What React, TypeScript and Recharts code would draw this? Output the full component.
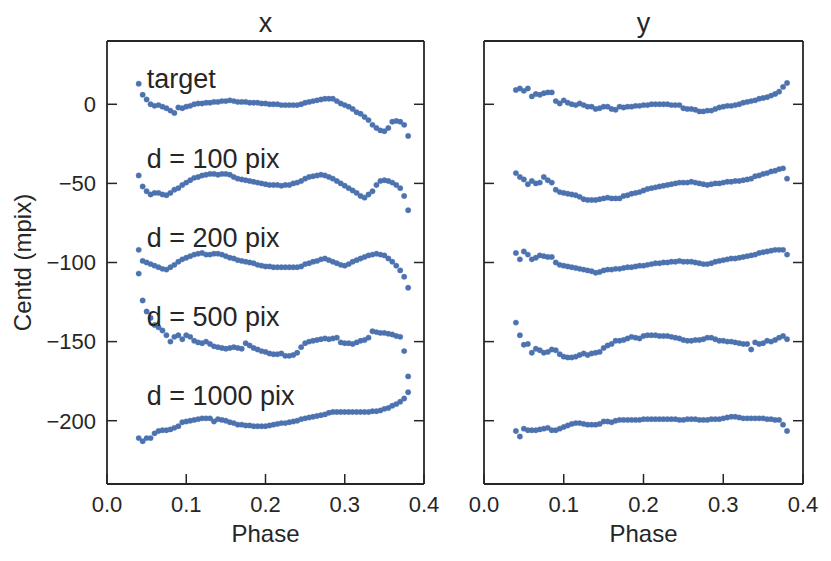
import { ScatterChart, Scatter, XAxis, YAxis, Label } from 'recharts';

// phase grid shared by every series
const phase = [
  0.04, 0.045, 0.05, 0.055, 0.06, 0.065, 0.07, 0.075, 0.08, 0.085,
  0.09, 0.095, 0.1, 0.105, 0.11, 0.115, 0.12, 0.125, 0.13, 0.135,
  0.14, 0.145, 0.15, 0.155, 0.16, 0.165, 0.17, 0.175, 0.18, 0.185,
  0.19, 0.195, 0.2, 0.205, 0.21, 0.215, 0.22, 0.225, 0.23, 0.235,
  0.24, 0.245, 0.25, 0.255, 0.26, 0.265, 0.27, 0.275, 0.28, 0.285,
  0.29, 0.295, 0.3, 0.305, 0.31, 0.315, 0.32, 0.325, 0.33, 0.335,
  0.34, 0.345, 0.35, 0.355, 0.36, 0.365, 0.37, 0.375, 0.38,
];

// x centroid (mpix)
const xTarget = [
  13, 6, 3, 0, -1, -0.5, -1.5, -2.5, -4, -5.5,
  -2, -2.5, -1.5, -1, 0, 0.5, 0.5, 1, 1, 1.5,
  1.5, 2, 2, 2.5, 2, 1.5, 1.5, 1.5, 1, 1,
  1, 0.5, 0.5, 0, 0, 0, -0.5, -0.5, -0.5, -0.5,
  -0.5, 0, 1, 1.5, 2, 2.5, 3, 3.5, 3.5, 3.5,
  2, 0.5, -0.5, -1.5, -3, -5, -6, -8, -10, -13,
  -15, -16.5, -17, -15, -11, -10.5, -11, -13, -20,
];
const x100 = [
  -45, -52, -55, -57, -56, -56, -57, -57.5, -56, -54,
  -53, -51, -49.5, -48, -46.5, -46, -45, -44.5, -44, -44,
  -44.5, -44, -44, -44.5, -46, -47, -47.5, -48, -48.5, -49,
  -49.5, -50, -50.5, -51, -51, -51, -51.5, -51, -51, -50,
  -49.5, -48.5, -47, -46, -45.5, -45, -44.5, -45, -46, -47,
  -48.5, -50, -51.5, -53, -54.5, -56, -58, -59, -57, -55,
  -51, -48.5, -48, -48.5, -49.5, -51, -53, -58, -67,
];
const x200 = [
  -92, -99, -100, -101, -102, -103, -104, -104.5, -103, -101.5,
  -99.5, -98, -97, -96, -95, -94.5, -94, -95, -95, -94.5,
  -94.5, -95, -96, -97, -97.5, -98.5, -99, -99.5, -100, -100.5,
  -101.5, -102, -102.5, -102.5, -103, -103, -103, -103, -103, -103,
  -103, -102.5, -101, -100.5, -99.5, -99, -98, -97.5, -98.5, -99.5,
  -100.5, -101.5, -102, -101, -99.5, -98.5, -97.5, -96.5, -95.5, -95,
  -94.5, -95, -95.5, -97.5, -99.5, -102, -105, -109, -116,
];
const x500 = [
  -107, -124, -131, -135, -139.5, -141, -143, -146, -150, -147,
  -146, -148.5, -146, -147, -149.5, -150.5, -151, -150, -151.5, -153,
  -153.5, -154, -154.5, -154, -153.5, -154, -154.5, -151, -152.5, -154,
  -155, -156, -156.5, -157.5, -158, -158, -157.5, -159, -159, -158.5,
  -157, -153.5, -151, -150, -149.5, -149, -148.5, -148, -148.5, -148,
  -147.5, -150.5, -151, -151, -151.5, -150.5, -149.5, -149, -147.5, -143.5,
  -144, -144.5, -144.5, -145, -145.5, -146.5, -147, -156, -172,
];
const x1000 = [
  -211, -213, -211, -211, -208, -206.5, -206, -206, -205.5, -204.5,
  -203.5, -201, -200.5, -200, -199.5, -199, -198.5, -198.5, -198.5, -200.5,
  -199, -199.5, -200, -201, -201.5, -202.5, -202.5, -203, -203, -203.5,
  -203.5, -203.5, -203.5, -203, -202.5, -202, -201.5, -201.5, -201, -200.5,
  -200, -199, -198.5, -198, -197.5, -197, -196.5, -196, -195, -194.5,
  -194.5, -194.5, -194.5, -194.5, -194.5, -194.5, -194.5, -194.5, -194.5, -194,
  -194, -193.5, -192.5, -192, -190.5, -189.5, -188, -186, -182,
];

// y centroid (mpix)
const yTarget = [
  9, 10, 8.5, 10, 5, 6.5, 6, 7, 7.5, 7.5,
  2, 0.5, 2.5, 1, 0, -0.5, 0.5, -0.5, -1.5, -1.5,
  -3, -2.5, -1.5, -1.5, -3, -3.5, -1.5, -2, -1.5, -1.5,
  -1, -1, -0.5, -0.5, 0, 0, 0, 0, 0, -0.5,
  -0.5, -0.5, -2.5, -3, -3, -3.5, -4.5, -4.5, -4, -4,
  -3, -2, -1.5, -1, -1, -0.5, 0, 1, 1.5, 2,
  2.5, 3.5, 4, 4.5, 5.5, 6.5, 8, 11, 13.5,
];
const y100 = [
  -43.5, -46, -47.5, -50.5, -48.5, -50, -49.5, -46, -48, -49.5,
  -54, -55.5, -56, -56.5, -57, -57.5, -58.5, -60, -60.5, -60.5,
  -60.5, -60, -59.5, -59, -59.5, -59.5, -59.5, -58, -57.5, -56.5,
  -56, -55.5, -54.5, -53.5, -53, -52.5, -52, -51.5, -51, -50.5,
  -50, -49.5, -49.5, -49.5, -49, -49.5, -50, -50.5, -51, -50.5,
  -50, -50, -49.5, -49, -49, -48.5, -48.5, -48, -47.5, -47,
  -45.5, -45, -44, -43.5, -42.5, -42, -41, -40.5, -47,
];
const y200 = [
  -94, -98, -93, -95, -98, -97, -95.5, -96, -96.5, -96.5,
  -100, -101.5, -102, -102.5, -103, -103.5, -104, -104.5, -105, -105.5,
  -106.5, -106, -105, -104.5, -104.5, -104, -104, -103.5, -103, -103,
  -102.5, -102, -102, -101.5, -101, -100.5, -100.5, -100, -100, -99.5,
  -99.5, -99, -99.5, -99.5, -99.5, -100, -100.5, -101, -101, -100.5,
  -99.5, -99, -98.5, -98, -97.5, -97.5, -97, -96.5, -96, -95.5,
  -95, -94, -93.5, -93, -92.5, -92, -92, -92, -95,
];
const y500 = [
  -138, -146, -152, -151.5, -157, -154.5, -155.5, -157, -156.5, -155,
  -155.5, -158, -159.5, -160, -160, -159.5, -158.5, -157.5, -158.5, -157.5,
  -157, -156.5, -154, -152.5, -151.5, -149.5, -149.5, -149, -148, -147,
  -147.5, -148, -146.5, -146, -146, -146, -146.5, -146.5, -146.5, -147,
  -147.5, -148, -149, -149.5, -149.5, -149, -149, -148.5, -147.5, -147.5,
  -148.5, -149.5, -149.5, -150, -150, -150.5, -151, -151.5, -151.5, -155,
  -150.5, -151.5, -151, -149.5, -150, -149, -147.5, -146.5, -148.5,
];
const y1000 = [
  -206.5, -210, -205, -206, -206, -206, -205.5, -205, -204.5, -206,
  -206, -205, -204, -203, -202, -201.5, -201.5, -202, -202.5, -202.5,
  -202.5, -202, -200.5, -200.5, -201, -200, -199.5, -199.5, -199.5, -199.5,
  -199.5, -199.5, -199, -199, -199, -199, -199, -199, -199, -199,
  -199, -199.5, -199.5, -199, -199, -199, -199.5, -199.5, -199.5, -199,
  -199, -199, -198.5, -198, -197.5, -197.5, -198, -198.5, -198.5, -198.5,
  -198.5, -198.5, -198.5, -199, -199, -199.5, -199.5, -202.5, -206.5,
];

// text labels placed in data coordinates on the left panel
const labelNames = ['target', 'd = 100 pix', 'd = 200 pix', 'd = 500 pix', 'd = 1000 pix'];
const labelPhase = [0.05, 0.05, 0.05, 0.05, 0.05];
const labelValues = [10, -40, -90, -140, -190];

const xTicks = [0, 0.1, 0.2, 0.3, 0.4];
const yTicks = [-200, -150, -100, -50, 0];

const INK = '#262626';
const DOT = '#4c72b0';
const FONT = '"Liberation Sans", Arial, sans-serif';

const toPoints = (vals: number[]) => phase.map((p, i) => ({ phase: p, value: vals[i] }));
const annotations = labelNames.map((name, i) => ({ phase: labelPhase[i], value: labelValues[i], name }));

const fmtY = (v: number) => (v < 0 ? `\u2212${Math.abs(v)}` : `${v}`);
const blank = () => '';

const Dot = (p: any) => (
  <circle cx={p.cx} cy={p.cy} r={2.7} fill={DOT} stroke="rgba(76,114,176,0.35)" strokeWidth={1} />
);

const Note = (p: any) => (
  <text x={p.cx} y={p.cy} fontSize={27} fill={INK} fontFamily={FONT}>
    {p.payload.name}
  </text>
);

type PanelProps = {
  title: string;
  sets: number[][];
  left: number;
  width: number;
  yWidth: number;
  marginRight: number;
  primary: boolean;
};

const Panel = ({ title, sets, left, width, yWidth, marginRight, primary }: PanelProps) => {
  const axisLine = { stroke: INK, strokeWidth: 1.8 };
  const tickLine = { stroke: INK, strokeWidth: 1.5 };
  const tickStyle = { fill: INK, fontSize: 22, fontFamily: FONT };
  return (
    <div style={{ position: 'absolute', left, top: 0 }}>
      <ScatterChart width={width} height={561} margin={{ top: 40, right: marginRight, bottom: 0, left: 0 }}>
        <XAxis
          xAxisId="b"
          type="number"
          dataKey="phase"
          domain={[0, 0.4]}
          allowDataOverflow
          ticks={xTicks}
          interval={0}
          tickFormatter={(v: number) => v.toFixed(1)}
          height={77}
          tickSize={-10}
          tickMargin={22}
          tick={tickStyle}
          axisLine={axisLine}
          tickLine={tickLine}
        >
          <Label value="Phase" position="insideBottom" offset={19} fill={INK} fontSize={24} fontFamily={FONT} />
        </XAxis>
        <XAxis
          xAxisId="t"
          orientation="top"
          type="number"
          domain={[0, 0.4]}
          allowDataOverflow
          ticks={xTicks}
          interval={0}
          tickFormatter={blank}
          height={1}
          tickSize={-10}
          axisLine={axisLine}
          tickLine={tickLine}
        >
          <Label value={title} position="top" offset={8} fill={INK} fontSize={27} fontFamily={FONT} />
        </XAxis>
        <YAxis
          yAxisId="l"
          type="number"
          dataKey="value"
          domain={[-240, 40]}
          allowDataOverflow
          ticks={yTicks}
          interval={0}
          tickFormatter={primary ? fmtY : blank}
          width={yWidth}
          tickSize={-10}
          tickMargin={21}
          tick={tickStyle}
          axisLine={axisLine}
          tickLine={tickLine}
        >
          {primary && (
            <Label
              content={(lp: any) => {
                const vb = lp.viewBox || {};
                const cy = (vb.y ?? 41) + (vb.height ?? 443) / 2;
                return (
                  <text
                    x={31}
                    y={cy}
                    transform={`rotate(-90, 31, ${cy})`}
                    textAnchor="middle"
                    fontSize={24}
                    fill={INK}
                    fontFamily={FONT}
                  >
                    Centd (mpix)
                  </text>
                );
              }}
            />
          )}
        </YAxis>
        <YAxis
          yAxisId="r"
          orientation="right"
          type="number"
          domain={[-240, 40]}
          allowDataOverflow
          ticks={yTicks}
          interval={0}
          tickFormatter={blank}
          width={1}
          tickSize={-10}
          axisLine={axisLine}
          tickLine={tickLine}
        />
        {sets.map((vals, i) => (
          <Scatter
            key={i}
            xAxisId="b"
            yAxisId="l"
            data={toPoints(vals)}
            shape={Dot}
            isAnimationActive={false}
          />
        ))}
        {primary && (
          <Scatter xAxisId="b" yAxisId="l" data={annotations} shape={Note} isAnimationActive={false} />
        )}
      </ScatterChart>
    </div>
  );
};

export default function App() {
  return (
    <div
      style={{
        position: 'absolute',
        left: 0,
        top: 0,
        width: 831,
        height: 561,
        background: '#fff',
        fontFamily: FONT,
      }}
    >
      <Panel
        title="x"
        sets={[xTarget, x100, x200, x500, x1000]}
        left={0}
        width={470}
        yWidth={107}
        marginRight={45}
        primary
      />
      <Panel
        title="y"
        sets={[yTarget, y100, y200, y500, y1000]}
        left={430}
        width={401}
        yWidth={54}
        marginRight={27}
        primary={false}
      />
    </div>
  );
}
